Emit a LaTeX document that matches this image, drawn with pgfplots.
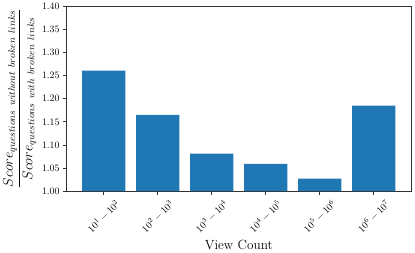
\documentclass[border=0pt]{standalone}
\usepackage{pgfplots}
\pgfplotsset{compat=1.18}
\DeclareMathSizes{15.5}{15.5}{9.7}{7}
\definecolor{tabblue}{HTML}{1F77B4}
\definecolor{spine}{HTML}{333333}
\begin{document}
\begin{tikzpicture}
\begin{axis}[
  scale only axis,
  width=349bp, height=187bp,
  xmin=-0.69, xmax=5.69,
  ymin=1.0, ymax=1.4,
  ytick={1.00,1.05,1.10,1.15,1.20,1.25,1.30,1.35,1.40},
  yticklabel style={/pgf/number format/fixed, /pgf/number format/precision=2, /pgf/number format/fixed zerofill},
  xtick={0,1,2,3,4,5},
  xticklabels={{$10^1-10^2$},{$10^2-10^3$},{$10^3-10^4$},{$10^4-10^5$},{$10^5-10^6$},{$10^6-10^7$}},
  xticklabel style={yshift=-22bp, rotate=45, anchor=center},
  tick align=outside,
  xtick pos=bottom, ytick pos=left,
  major tick length=3.5bp,
  axis line style={spine, line width=0.8pt},
  every tick/.style={spine, line width=0.8pt},
  xlabel={View Count},
  xlabel style={font=\fontsize{13.5}{16}\selectfont, yshift=2bp},
  ylabel={$\displaystyle\frac{Score_{questions\ without\ broken\ links}}{Score_{questions\ with\ broken\ links}}$},
  ylabel style={font=\fontsize{15.5}{18}\selectfont, yshift=-1bp},
  clip=false,
]
\addplot[ybar, bar width=0.8, fill=tabblue, draw=none, bar shift=0pt] coordinates {
  (0,1.261) (1,1.165) (2,1.081) (3,1.059) (4,1.027) (5,1.185)
};
\end{axis}
\path (current axis.north east) ++(4bp,5bp);
\end{tikzpicture}
\end{document}
